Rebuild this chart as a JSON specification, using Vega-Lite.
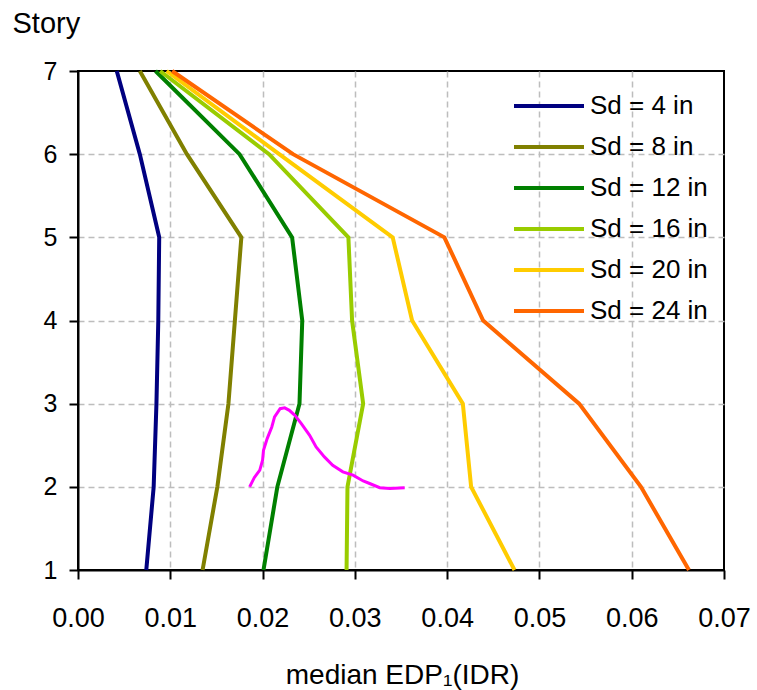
{
  "$schema": "https://vega.github.io/schema/vega-lite/v6.json",
  "width": 646,
  "height": 499,
  "autosize": "none",
  "padding": {"left": 78, "top": 71, "right": 33, "bottom": 120},
  "background": "white",
  "config": {
    "font": "Liberation Sans",
    "view": {"stroke": "black", "strokeWidth": 2},
    "axis": {
      "domainColor": "black",
      "domainWidth": 2,
      "tickColor": "black",
      "tickWidth": 2,
      "tickSize": 9,
      "gridColor": "#BDBDBD",
      "gridWidth": 1.5,
      "gridDash": [6, 4],
      "labelColor": "black",
      "titleColor": "black",
      "labelFont": "Liberation Sans",
      "titleFont": "Liberation Sans",
      "titleFontWeight": "normal"
    }
  },
  "datasets": {
    "curves": [
      {"sd": "Sd = 4 in", "story": 7, "edp": 0.0042},
      {"sd": "Sd = 4 in", "story": 6, "edp": 0.0067},
      {"sd": "Sd = 4 in", "story": 5, "edp": 0.0088},
      {"sd": "Sd = 4 in", "story": 4, "edp": 0.0087},
      {"sd": "Sd = 4 in", "story": 3, "edp": 0.0085},
      {"sd": "Sd = 4 in", "story": 2, "edp": 0.0082},
      {"sd": "Sd = 4 in", "story": 1, "edp": 0.0074},
      {"sd": "Sd = 8 in", "story": 7, "edp": 0.0067},
      {"sd": "Sd = 8 in", "story": 6, "edp": 0.0118},
      {"sd": "Sd = 8 in", "story": 5, "edp": 0.0177},
      {"sd": "Sd = 8 in", "story": 4, "edp": 0.0170},
      {"sd": "Sd = 8 in", "story": 3, "edp": 0.0163},
      {"sd": "Sd = 8 in", "story": 2, "edp": 0.0151},
      {"sd": "Sd = 8 in", "story": 1, "edp": 0.0135},
      {"sd": "Sd = 12 in", "story": 7, "edp": 0.0084},
      {"sd": "Sd = 12 in", "story": 6, "edp": 0.0175},
      {"sd": "Sd = 12 in", "story": 5, "edp": 0.0232},
      {"sd": "Sd = 12 in", "story": 4, "edp": 0.0243},
      {"sd": "Sd = 12 in", "story": 3, "edp": 0.0240},
      {"sd": "Sd = 12 in", "story": 2, "edp": 0.0216},
      {"sd": "Sd = 12 in", "story": 1, "edp": 0.0201},
      {"sd": "Sd = 16 in", "story": 7, "edp": 0.0089},
      {"sd": "Sd = 16 in", "story": 6, "edp": 0.0207},
      {"sd": "Sd = 16 in", "story": 5, "edp": 0.0293},
      {"sd": "Sd = 16 in", "story": 4, "edp": 0.0297},
      {"sd": "Sd = 16 in", "story": 3, "edp": 0.0309},
      {"sd": "Sd = 16 in", "story": 2, "edp": 0.0292},
      {"sd": "Sd = 16 in", "story": 1, "edp": 0.0291},
      {"sd": "Sd = 20 in", "story": 7, "edp": 0.0096},
      {"sd": "Sd = 20 in", "story": 6, "edp": 0.0218},
      {"sd": "Sd = 20 in", "story": 5, "edp": 0.0341},
      {"sd": "Sd = 20 in", "story": 4, "edp": 0.0362},
      {"sd": "Sd = 20 in", "story": 3, "edp": 0.0417},
      {"sd": "Sd = 20 in", "story": 2, "edp": 0.0426},
      {"sd": "Sd = 20 in", "story": 1, "edp": 0.0473},
      {"sd": "Sd = 24 in", "story": 7, "edp": 0.0102},
      {"sd": "Sd = 24 in", "story": 6, "edp": 0.0233},
      {"sd": "Sd = 24 in", "story": 5, "edp": 0.0397},
      {"sd": "Sd = 24 in", "story": 4, "edp": 0.0439},
      {"sd": "Sd = 24 in", "story": 3, "edp": 0.0543},
      {"sd": "Sd = 24 in", "story": 2, "edp": 0.0610},
      {"sd": "Sd = 24 in", "story": 1, "edp": 0.0662}
    ],
    "distribution": [
      {"i": 1, "edp": 0.0186, "story": 2.00},
      {"i": 2, "edp": 0.0191, "story": 2.11},
      {"i": 3, "edp": 0.0197, "story": 2.20},
      {"i": 4, "edp": 0.0200, "story": 2.32},
      {"i": 5, "edp": 0.0201, "story": 2.44},
      {"i": 6, "edp": 0.0205, "story": 2.58},
      {"i": 7, "edp": 0.0210, "story": 2.72},
      {"i": 8, "edp": 0.0213, "story": 2.84},
      {"i": 9, "edp": 0.0219, "story": 2.94},
      {"i": 10, "edp": 0.0224, "story": 2.95},
      {"i": 11, "edp": 0.0229, "story": 2.92},
      {"i": 12, "edp": 0.0235, "story": 2.86},
      {"i": 13, "edp": 0.0242, "story": 2.76},
      {"i": 14, "edp": 0.0251, "story": 2.62},
      {"i": 15, "edp": 0.0258, "story": 2.48},
      {"i": 16, "edp": 0.0267, "story": 2.36},
      {"i": 17, "edp": 0.0276, "story": 2.26},
      {"i": 18, "edp": 0.0287, "story": 2.18},
      {"i": 19, "edp": 0.0298, "story": 2.14},
      {"i": 20, "edp": 0.0309, "story": 2.07},
      {"i": 21, "edp": 0.0316, "story": 2.04},
      {"i": 22, "edp": 0.0327, "story": 1.99},
      {"i": 23, "edp": 0.0338, "story": 1.98},
      {"i": 24, "edp": 0.0354, "story": 1.99}
    ]
  },
  "layer": [
    {
      "data": {"name": "curves"},
      "mark": {"type": "line", "strokeWidth": 4, "strokeJoin": "miter"},
      "encoding": {
        "x": {
          "field": "edp",
          "type": "quantitative",
          "scale": {"domain": [0, 0.07], "nice": false, "zero": false},
          "axis": {
            "title": "median EDP₁(IDR)",
            "values": [0, 0.01, 0.02, 0.03, 0.04, 0.05, 0.06, 0.07],
            "format": ".2f",
            "gridOpacity": {"condition": {"test": "datum.value <= 0 || datum.value >= 0.0699", "value": 0}, "value": 1},
            "labelFontSize": 27,
            "labelPadding": 26,
            "labelFlush": false,
            "titleFontSize": 28,
            "titleAnchor": "middle",
            "titleAlign": "center",
            "titleBaseline": "alphabetic",
            "titleX": 324,
            "titleY": 113
          }
        },
        "y": {
          "field": "story",
          "type": "quantitative",
          "scale": {"domain": [1, 7], "nice": false, "zero": false},
          "axis": {
            "title": "Story",
            "values": [1, 2, 3, 4, 5, 6, 7],
            "format": "d",
            "gridOpacity": {"condition": {"test": "datum.value <= 1 || datum.value >= 7", "value": 0}, "value": 1},
            "labelFontSize": 25,
            "labelPadding": 12,
            "labelFlush": false,
            "titleFontSize": 29,
            "titleAngle": 0,
            "titleAlign": "left",
            "titleBaseline": "alphabetic",
            "titleX": -66,
            "titleY": -39
          }
        },
        "order": {"field": "story", "type": "quantitative"},
        "color": {
          "field": "sd",
          "type": "nominal",
          "scale": {
            "domain": ["Sd = 4 in", "Sd = 8 in", "Sd = 12 in", "Sd = 16 in", "Sd = 20 in", "Sd = 24 in"],
            "range": ["#000080", "#808000", "#008000", "#99CC00", "#FFCC00", "#FF6600"]
          },
          "legend": {
            "title": null,
            "orient": "none",
            "legendX": 434,
            "legendY": 19,
            "padding": 0,
            "symbolType": "M-1,0L4,0",
            "symbolSize": 784,
            "symbolStrokeWidth": 4,
            "symbolFillColor": "transparent",
            "labelFontSize": 26,
            "labelFont": "Liberation Sans",
            "labelColor": "black",
            "labelOffset": 46,
            "rowPadding": 12
          }
        }
      }
    },
    {
      "data": {"name": "distribution"},
      "mark": {"type": "line", "color": "#FF00FF", "strokeWidth": 3},
      "encoding": {
        "x": {"field": "edp", "type": "quantitative"},
        "y": {"field": "story", "type": "quantitative"},
        "order": {"field": "i", "type": "quantitative"}
      }
    }
  ]
}
